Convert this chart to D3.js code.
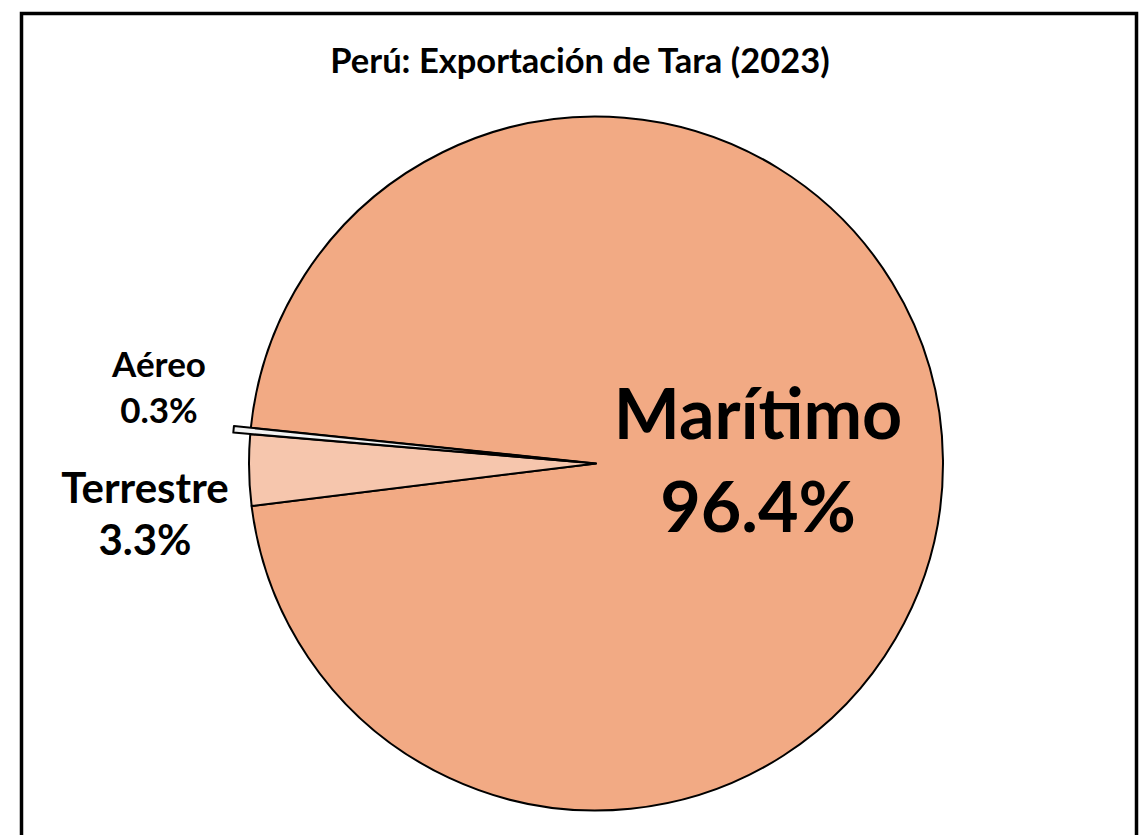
<!DOCTYPE html>
<html>
<head>
<meta charset="utf-8">
<script src="https://cdn.jsdelivr.net/npm/d3@7"></script>
<style>
  body { margin: 0; background: #fff; }
  text { font-family: Lato, "Open Sans", sans-serif; font-weight: bold; fill: #000; }
</style>
</head>
<body>
<div id="chart"></div>
<script>
// export share by transport mode, Peru tara 2023 (percent)
var modes = ["Marítimo", "Terrestre", "Aéreo"];
var shares = [96.4, 3.3, 0.3];
var labels = ["96.4%", "3.3%", "0.3%"];
var colors = ["#F2AA84", "#F6C6AD", "#F2F2F2"];

var width = 1148, height = 835;
var cx = 596, cy = 463.5, radius = 347;

var svg = d3.select("#chart")
  .append("svg")
    .attr("width", width)
    .attr("height", height);

// chart frame (bottom edge falls off the picture)
svg.append("rect")
  .attr("x", 21.5)
  .attr("y", 13.5)
  .attr("width", 1115)
  .attr("height", 840)
  .attr("fill", "#fff")
  .attr("stroke", "#000")
  .attr("stroke-width", 3.5);

svg.append("text")
  .attr("x", 580)
  .attr("y", 73)
  .attr("text-anchor", "middle")
  .style("font-size", "34.5px")
  .text("Perú: Exportación de Tara (2023)");

var data = modes.map(function(m, i) {
  return {mode: m, value: shares[i], label: labels[i], color: colors[i]};
});

// first slice angle chosen so the small slices sit at 9 o'clock
var start = -84.07 * Math.PI / 180;
var pie = d3.pie()
  .sort(null)
  .value(function(d) { return d.value; })
  .startAngle(start)
  .endAngle(start + 2 * Math.PI);

var arc = d3.arc().innerRadius(0).outerRadius(radius);
var arcs = pie(data);

var g = svg.append("g")
  .attr("transform", "translate(" + cx + "," + cy + ")");

// Aéreo slice is pulled out a bit
var explode = {"Aéreo": 17};

g.selectAll("path")
  .data(arcs)
  .enter()
  .append("path")
    .attr("d", arc)
    .attr("fill", function(d) { return d.data.color; })
    .attr("stroke", "#000")
    .attr("stroke-width", 2)
    .attr("stroke-linejoin", "round")
    .attr("transform", function(d) {
      var off = explode[d.data.mode] || 0;
      var a = (d.startAngle + d.endAngle) / 2;
      return "translate(" + (off * Math.sin(a)) + "," + (-off * Math.cos(a)) + ")";
    });

// label placement: inside for big slice, outside left for the small ones
var labelPos = {
  "Marítimo": {r: 0.467, dy: -2, size: 70, gap: 93},
  "Terrestre": {r: 1.3, dy: 42, size: 42, gap: 52},
  "Aéreo": {r: 1.265, dy: -35, size: 35, gap: 46}
};

arcs.forEach(function(d) {
  var p = labelPos[d.data.mode];
  var a = (d.startAngle + d.endAngle) / 2;
  var x = radius * p.r * Math.sin(a);
  var y = -radius * p.r * Math.cos(a) + p.dy;
  var t = g.append("text")
    .attr("text-anchor", "middle")
    .style("font-size", p.size + "px");
  var capH = p.size * 0.72;
  var top = y - (p.gap + capH) / 2;
  t.append("tspan")
    .attr("x", x)
    .attr("y", top + capH)
    .text(d.data.mode);
  t.append("tspan")
    .attr("x", x)
    .attr("y", top + capH + p.gap)
    .text(d.data.label);
});
</script>
</body>
</html>
